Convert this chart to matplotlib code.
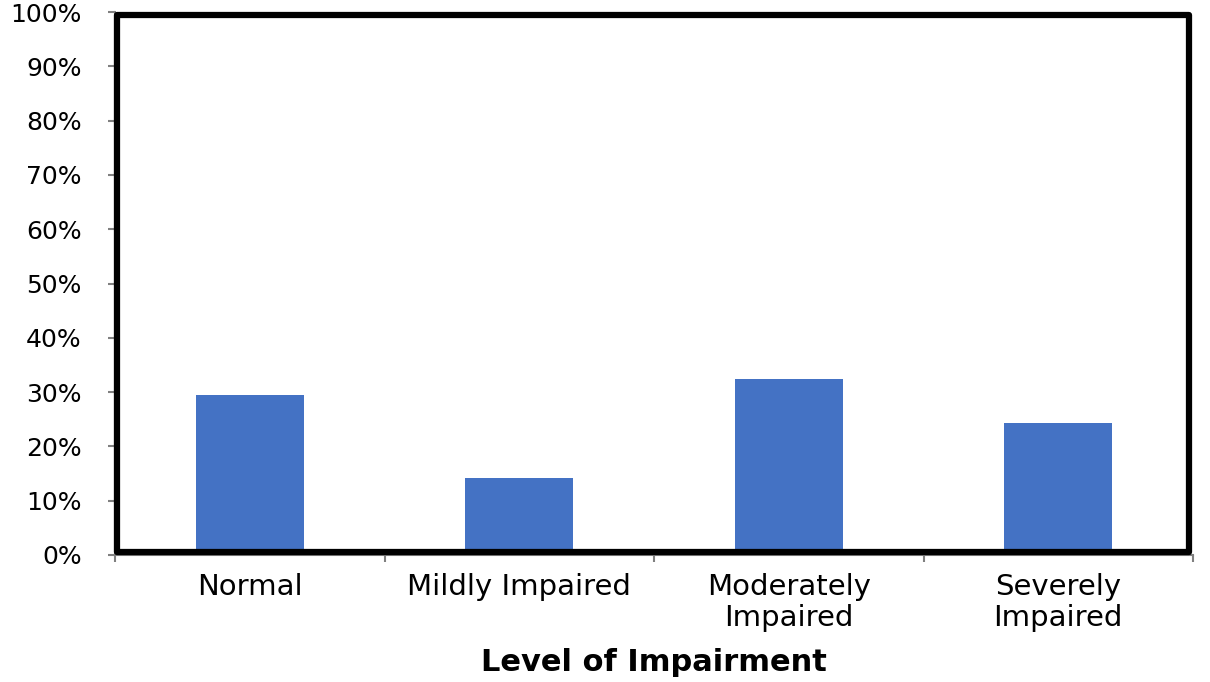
import matplotlib.pyplot as plt
from matplotlib.patches import Rectangle
from matplotlib.ticker import PercentFormatter

# Share of participants per impairment level (%)
categories = ["Normal", "Mildly Impaired", "Moderately\nImpaired", "Severely\nImpaired"]
values = [29.5, 14.2, 32.4, 24.3]
y_ticks = list(range(0, 101, 10))

BAR_COLOR = "#4472C4"

plt.rcParams['font.family'] = ['DejaVu Sans']

fig = plt.figure(figsize=(12.1, 6.82), dpi=100)
ax = fig.add_axes([115 / 1210, (682 - 555) / 682, (1193 - 115) / 1210, (555 - 12) / 682])

x = range(len(categories))
ax.bar(x, values, width=0.4, color=BAR_COLOR, zorder=2)

ax.set_xlim(-0.5, len(categories) - 0.5)
ax.set_ylim(0, 100)
ax.set_yticks(y_ticks)
ax.yaxis.set_major_formatter(PercentFormatter(decimals=0))

# category ticks sit on the boundaries between groups
ax.set_xticks([i + 0.5 for i in range(-1, len(categories))], minor=False)
ax.set_xticklabels([])
ax.set_xticks(list(x), minor=True)
ax.set_xticklabels(categories, minor=True, fontsize=21, linespacing=1.15)
ax.tick_params(axis='x', which='minor', length=0, pad=13)
ax.tick_params(axis='x', which='major', length=5, color='#808080', width=1.5)
ax.tick_params(axis='y', length=5, color='#808080', width=1.5, labelsize=18, pad=19)

for side in ['top', 'right']:
    ax.spines[side].set_visible(False)
for side in ['left', 'bottom']:
    ax.spines[side].set_color('#808080')
    ax.spines[side].set_linewidth(1.5)

# heavy black frame around the plot area
ax.add_patch(Rectangle((0.002, 0.006), 0.994, 0.988, transform=ax.transAxes,
                       fill=False, ec='black', lw=4.5, clip_on=False, zorder=3,
                       joinstyle='round'))

ax.set_xlabel("Level of Impairment", fontsize=22, fontweight='bold', labelpad=11)

fig.savefig("out.png", dpi=100)
